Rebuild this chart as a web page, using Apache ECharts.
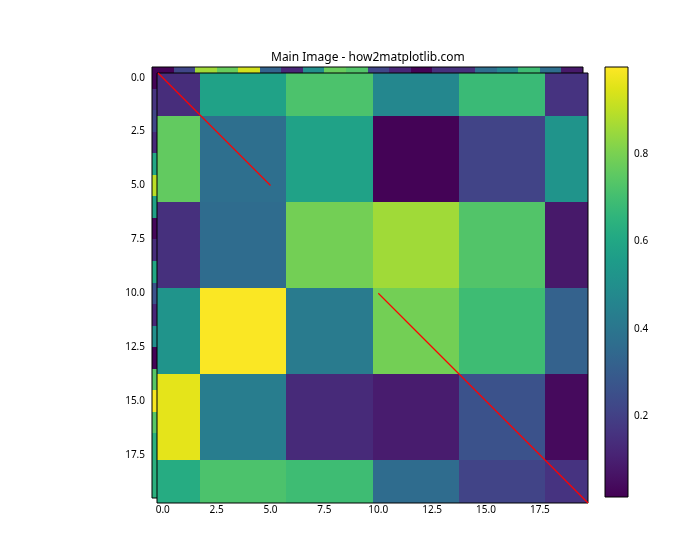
<!DOCTYPE html>
<html><head><meta charset="utf-8">
<script src="https://cdn.jsdelivr.net/npm/echarts@6.0.0/dist/echarts.min.js"></script>
</head>
<body style="margin:0;background:#fff">
<div id="chart" style="width:700px;height:560px"></div>
<script>
// ---------- data ----------
const chartTitle = 'Main Image - how2matplotlib.com';
const tickValues = [0, 2.5, 5, 7.5, 10, 12.5, 15, 17.5];
const colorbarTicks = [0.2, 0.4, 0.6, 0.8];
const valueMin = 0.014;
const valueMax = 1.0;
const imageExtent = [-0.5, 19.5];
// main (front) image: 6x6 blocks bounded by these edges
const blockEdges = [-0.5, 1.5, 5.5, 9.5, 13.5, 17.5, 19.5];
const blockValues = [
  [0.14, 0.58, 0.72, 0.47, 0.68, 0.16],
  [0.76, 0.37, 0.58, 0.02, 0.21, 0.52],
  [0.15, 0.36, 0.79, 0.86, 0.73, 0.08],
  [0.52, 0.995, 0.42, 0.79, 0.69, 0.32],
  [0.96, 0.43, 0.13, 0.09, 0.26, 0.04],
  [0.62, 0.72, 0.69, 0.36, 0.21, 0.16]
];
// background image: only its first row and first column are visible
const backTopRow = [0.02, 0.22, 0.86, 0.77, 0.93, 0.33, 0.12, 0.50, 0.77, 0.73,
                    0.22, 0.12, 0.02, 0.15, 0.15, 0.37, 0.47, 0.69, 0.37, 0.08];
const backLeftColumn = [0.02, 0.16, 0.22, 0.13, 0.60, 0.90, 0.58, 0.03, 0.14, 0.60,
                        0.26, 0.12, 0.50, 0.02, 0.74, 0.99, 0.74, 0.64, 0.64, 0.64];
// red lines, in the background image's data coordinates
const lineSegments = [[-0.5, -0.5, 5, 5], [10, 10, 20, 20]];

// ---------- style / layout ----------
const VIRIDIS = ['#440154','#471365','#482475','#463480','#414487','#3b528b','#355f8d',
  '#2f6c8e','#2a788e','#25848e','#21918c','#1e9c89','#22a884','#2fb47c','#44bf70',
  '#5ec962','#7ad151','#9bd93c','#bddf26','#dfe318','#fde725'];
const FONT = 'Noto Sans';
const LINE_COLOR = 'rgb(255,0,0)';
const BACK_GRID = {left: 152, top: 67, width: 431, height: 431};
const FRONT_GRID = {left: 157, top: 73, width: 431, height: 430};
const CBAR_GRID = {left: 605, top: 67, width: 23, height: 430};

// ---------- colour mapping ----------
function hexToRgb(h) { return [1, 3, 5].map(i => parseInt(h.substr(i, 2), 16)); }
const VIRIDIS_RGB = VIRIDIS.map(hexToRgb);
function colorFor(v) {
  let t = (v - valueMin) / (valueMax - valueMin);
  t = Math.max(0, Math.min(1, t)) * (VIRIDIS_RGB.length - 1);
  const i = Math.min(Math.floor(t), VIRIDIS_RGB.length - 2), f = t - i;
  const a = VIRIDIS_RGB[i], b = VIRIDIS_RGB[i + 1];
  return 'rgb(' + a.map((c, k) => Math.round(c + (b[k] - c) * f)).join(',') + ')';
}

// ---------- build ----------
const backCells = [];
backTopRow.forEach((v, i) => backCells.push([v, i - 0.5, i + 0.5, -0.5, 0.5]));
backLeftColumn.forEach((v, j) => { if (j > 0) backCells.push([v, -0.5, 0.5, j - 0.5, j + 0.5]); });
const frontCells = [];
blockValues.forEach((row, r) => row.forEach((v, c) =>
  frontCells.push([v, blockEdges[c], blockEdges[c + 1], blockEdges[r], blockEdges[r + 1]])));

function cellRender(params, api) {
  const p0 = api.coord([api.value(1), api.value(3)]);
  const p1 = api.coord([api.value(2), api.value(4)]);
  const x0 = Math.round(Math.min(p0[0], p1[0])), x1 = Math.round(Math.max(p0[0], p1[0]));
  const y0 = Math.round(Math.min(p0[1], p1[1])), y1 = Math.round(Math.max(p0[1], p1[1]));
  return {type: 'rect', shape: {x: x0, y: y0, width: x1 - x0, height: y1 - y0},
          style: {fill: colorFor(api.value(0))}};
}

function clipSegment(x1, y1, x2, y2, r) {
  let t0 = 0, t1 = 1;
  const dx = x2 - x1, dy = y2 - y1;
  const p = [-dx, dx, -dy, dy];
  const q = [x1 - r.x0, r.x1 - x1, y1 - r.y0, r.y1 - y1];
  for (let i = 0; i < 4; i++) {
    if (p[i] === 0) { if (q[i] < 0) return null; continue; }
    const t = q[i] / p[i];
    if (p[i] < 0) { if (t > t1) return null; if (t > t0) t0 = t; }
    else { if (t < t0) return null; if (t < t1) t1 = t; }
  }
  return [x1 + t0 * dx, y1 + t0 * dy, x1 + t1 * dx, y1 + t1 * dy];
}

function lineRender(params, api) {
  const a = api.coord([api.value(0), api.value(1)]);
  const b = api.coord([api.value(2), api.value(3)]);
  const r = {x0: FRONT_GRID.left, y0: FRONT_GRID.top,
             x1: FRONT_GRID.left + FRONT_GRID.width, y1: FRONT_GRID.top + FRONT_GRID.height};
  const s = clipSegment(a[0], a[1], b[0], b[1], r);
  if (!s) return null;
  return {type: 'line', shape: {x1: s[0], y1: s[1], x2: s[2], y2: s[3]},
          style: {stroke: LINE_COLOR, lineWidth: 1.2}};
}

function colorbarRender(params, api) {
  const top = api.coord([0, api.value(1)]);
  const bot = api.coord([1, api.value(0)]);
  const stops = VIRIDIS.map((c, i) => ({offset: 1 - i / (VIRIDIS.length - 1), color: c})).reverse();
  return {type: 'rect',
          shape: {x: top[0], y: top[1], width: bot[0] - top[0], height: bot[1] - top[1]},
          style: {fill: new echarts.graphic.LinearGradient(0, 0, 0, 1, stops)}};
}

const labelStyle = {color: '#000', fontFamily: FONT, fontSize: 10};
const gridBorder = {show: true, backgroundColor: 'transparent', borderColor: '#000', borderWidth: 1};

const chart = echarts.init(document.getElementById('chart'), null, {renderer: 'canvas'});
chart.setOption({
  animation: false,
  backgroundColor: '#fff',
  title: {text: chartTitle, left: 266, top: 47,
          textStyle: {fontFamily: FONT, fontSize: 12, fontWeight: 'normal', color: '#000'}},
  grid: [
    Object.assign({}, BACK_GRID, gridBorder, {z: 2}),
    Object.assign({}, FRONT_GRID, gridBorder, {z: 4}),
    Object.assign({}, CBAR_GRID, gridBorder, {z: 2})
  ],
  xAxis: [
    {gridIndex: 0, type: 'value', min: imageExtent[0], max: imageExtent[1], position: 'bottom',
     axisLine: {show: false}, splitLine: {show: false},
     axisTick: {show: true, length: 4, customValues: tickValues, lineStyle: {color: '#000'}},
     axisLabel: Object.assign({margin: 7, customValues: tickValues,
                formatter: v => v.toFixed(1)}, labelStyle)},
    {gridIndex: 1, type: 'value', min: imageExtent[0], max: imageExtent[1], show: false},
    {gridIndex: 2, type: 'value', min: 0, max: 1, show: false}
  ],
  yAxis: [
    {gridIndex: 0, type: 'value', min: imageExtent[0], max: imageExtent[1], inverse: true, position: 'left',
     axisLine: {show: false}, splitLine: {show: false},
     axisTick: {show: true, length: 4, customValues: tickValues, lineStyle: {color: '#000'}},
     axisLabel: Object.assign({margin: 7, customValues: tickValues,
                formatter: v => v.toFixed(1)}, labelStyle)},
    {gridIndex: 1, type: 'value', min: imageExtent[0], max: imageExtent[1], inverse: true, show: false},
    {gridIndex: 2, type: 'value', min: valueMin, max: valueMax, position: 'right',
     axisLine: {show: false}, splitLine: {show: false},
     axisTick: {show: true, length: 4, customValues: colorbarTicks, lineStyle: {color: '#000'}},
     axisLabel: Object.assign({margin: 6, customValues: colorbarTicks,
                formatter: v => v.toFixed(1)}, labelStyle)}
  ],
  series: [
    {type: 'custom', name: 'background', xAxisIndex: 0, yAxisIndex: 0, z: 1, silent: true,
     renderItem: cellRender, data: backCells, encode: {x: [1, 2], y: [3, 4]}},
    {type: 'custom', name: 'main', xAxisIndex: 1, yAxisIndex: 1, z: 3, silent: true,
     renderItem: cellRender, data: frontCells, encode: {x: [1, 2], y: [3, 4]}},
    {type: 'custom', name: 'lines', xAxisIndex: 0, yAxisIndex: 0, z: 5, silent: true, clip: false,
     renderItem: lineRender, data: lineSegments, encode: {x: [0, 2], y: [1, 3]}},
    {type: 'custom', name: 'colorbar', xAxisIndex: 2, yAxisIndex: 2, z: 1, silent: true,
     renderItem: colorbarRender, data: [[valueMin, valueMax]], encode: {y: [0, 1]}}
  ]
});
</script>
</body></html>
